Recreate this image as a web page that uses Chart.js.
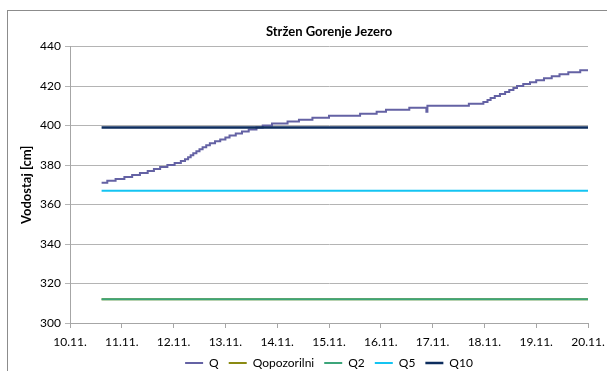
<!DOCTYPE html>
<html>
<head>
<meta charset="utf-8">
<script src="https://cdn.jsdelivr.net/npm/chart.js@4.4.1/dist/chart.umd.min.js"></script>
<style>
    html, body { margin: 0; padding: 0; background: #fff; overflow: hidden; width: 607px; height: 371px; }
    #frame {
        position: absolute;
        left: 7px;
        top: 10px;
        width: 600px;
        height: 374px;
        border-left: 1px solid #8c8c8c;
        border-top: 1px solid #8c8c8c;
        box-sizing: border-box;
        background: #fff;
    }
    canvas { display: block; }
</style>
</head>
<body>
<div id="frame">
    <canvas id="levelChart" width="599" height="373"></canvas>
</div>
<script>
// Vodostaj Stržen - Gorenje Jezero, 10.11. - 20.11.
const dayLabels = ['10.11.', '11.11.', '12.11.', '13.11.', '14.11.', '15.11.', '16.11.', '17.11.', '18.11.', '19.11.', '20.11.'];

// measured level: time (day of month) when the level changes, and the level in cm
const qTimes = [10.61, 10.72, 10.88, 11.05, 11.20, 11.35, 11.50, 11.62, 11.74, 11.88,
    12.02, 12.14, 12.22, 12.28, 12.33, 12.38, 12.44, 12.50, 12.56, 12.63,
    12.70, 12.80, 12.90, 13.00, 13.08, 13.20, 13.32, 13.45, 13.60, 13.72,
    13.90, 14.20, 14.42, 14.68, 15.00, 15.60, 15.92, 16.10, 16.55, 16.88,
    16.90, 16.92, 17.70, 17.98, 18.06, 18.12, 18.20, 18.30, 18.40, 18.48,
    18.56, 18.63, 18.75, 18.88, 19.00, 19.15, 19.30, 19.45, 19.62, 19.85, 20.00];
const qLevels = [371, 372, 373, 374, 375, 376, 377, 378, 379, 380,
    381, 382, 383, 384, 385, 386, 387, 388, 389, 390,
    391, 392, 393, 394, 395, 396, 397, 398, 399, 400,
    401, 402, 403, 404, 405, 406, 407, 408, 409, 407,
    410, 410, 411, 412, 413, 414, 415, 416, 417, 418,
    419, 420, 421, 422, 423, 424, 425, 426, 427, 428, 428];

// warning thresholds
const thresholdNames = ['Qopozorilni', 'Q2', 'Q5', 'Q10'];
const thresholdLevels = [312, 312, 367, 399];
const thresholdColors = ['#8a8a12', '#3ca57a', '#14c4f2', '#0d2d5e'];
const periodStart = 10.61;
const periodEnd = 20.0;

const datasets = [{
    label: 'Q',
    data: qTimes.map((t, i) => ({ x: t, y: qLevels[i] })),
    borderColor: '#6462a4',
    borderWidth: 2,
    stepped: 'before',
    pointRadius: 0,
    order: 10
}];

thresholdNames.forEach((name, i) => {
    datasets.push({
        label: name,
        data: [{ x: periodStart, y: thresholdLevels[i] }, { x: periodEnd, y: thresholdLevels[i] }],
        borderColor: thresholdColors[i],
        borderWidth: name === 'Q10' ? 2.5 : 2,
        pointRadius: 0,
        order: 5 - i
    });
});

// legend sits closer to the axis labels than its padding would allow
const legendLift = 5;
const liftLegend = {
    id: 'liftLegend',
    afterLayout: function (chart) {
        chart.legend.top -= legendLift;
        chart.legend.bottom -= legendLift;
    }
};

const fontFamily = 'Lato, "Open Sans", sans-serif';

new Chart(document.getElementById('levelChart'), {
    type: 'line',
    data: { datasets: datasets },
    plugins: [liftLegend],
    options: {
        responsive: false,
        animation: false,
        layout: { padding: { top: 13, right: 19, bottom: 0, left: 0 } },
        plugins: {
            title: {
                display: true,
                fullSize: false,
                text: 'Stržen Gorenje Jezero',
                color: '#000',
                font: { family: fontFamily, size: 13, weight: 'bold' },
                padding: { top: 0, bottom: 7 }
            },
            legend: {
                position: 'bottom',
                fullSize: false,
                labels: {
                    color: '#000',
                    font: { family: fontFamily, size: 12 },
                    usePointStyle: true,
                    pointStyle: 'line',
                    pointStyleWidth: 18,
                    padding: 10,
                    sort: (a, b) => a.datasetIndex - b.datasetIndex
                }
            },
            tooltip: { enabled: false }
        },
        scales: {
            x: {
                type: 'linear',
                min: 10,
                max: 20,
                afterFit: function (scale) {
                    scale.height = 29;
                    scale.paddingLeft = 0;
                    scale.paddingRight = 0;
                },
                ticks: {
                    stepSize: 1,
                    autoSkip: false,
                    maxRotation: 0,
                    padding: 7,
                    color: '#000',
                    font: { family: fontFamily, size: 12 },
                    callback: function (value) { return dayLabels[value - 10]; }
                },
                grid: {
                    drawOnChartArea: false,
                    drawTicks: true,
                    tickLength: 5,
                    color: '#a6a6a6'
                },
                border: { color: '#a6a6a6' }
            },
            y: {
                min: 300,
                max: 440,
                afterFit: function (scale) { scale.width = 62; },
                ticks: {
                    stepSize: 20,
                    padding: 4,
                    color: '#000',
                    font: { family: fontFamily, size: 12 }
                },
                grid: {
                    color: '#b4b4b4',
                    tickLength: 5
                },
                border: { color: '#a6a6a6' },
                title: {
                    display: true,
                    text: 'Vodostaj [cm]',
                    color: '#000',
                    font: { family: fontFamily, size: 13, weight: 'bold' },
                    padding: { top: 11, bottom: 0 }
                }
            }
        }
    }
});
</script>
</body>
</html>
